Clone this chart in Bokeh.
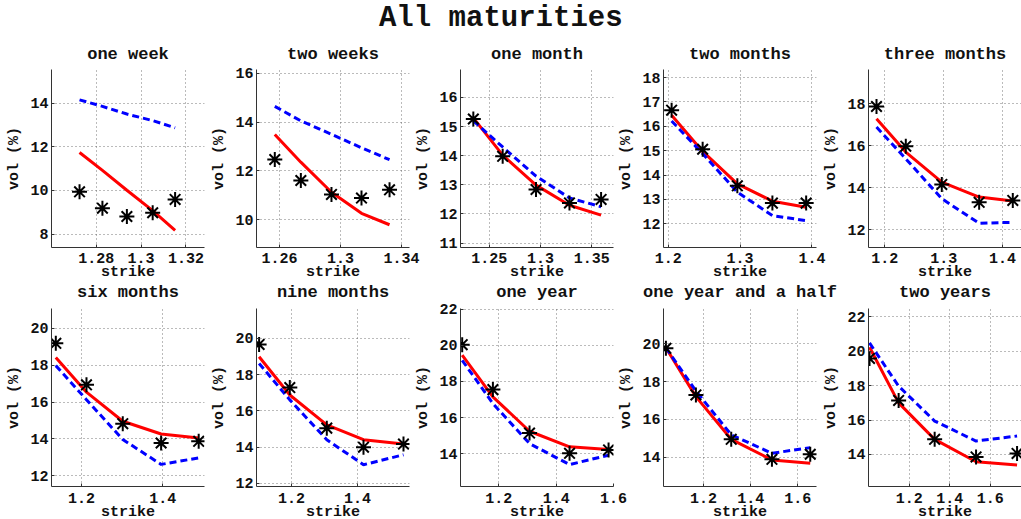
from bokeh.plotting import figure
from bokeh.layouts import column, row
from bokeh.models import Range1d, FixedTicker
from bokeh.embed import file_html
from bokeh.resources import INLINE
from bokeh.core.properties import value

SUPTITLE = "All maturities"
TITLES = ["one week", "two weeks", "one month", "two months", "three months",
          "six months", "nine months", "one year", "one year and a half", "two years"]

# strikes
K_1W = [1.2726, 1.2828, 1.2937, 1.3052, 1.3152]
K_2W = [1.2569, 1.2740, 1.2941, 1.3138, 1.3322]
K_1M = [1.2346, 1.2632, 1.2957, 1.3283, 1.3591]
K_2M = [1.2047, 1.2479, 1.2962, 1.3450, 1.3920]
K_3M = [1.1858, 1.2356, 1.2968, 1.3603, 1.4175]
K_6M = [1.1366, 1.2121, 1.3014, 1.3958, 1.4883]
K_9M = [1.1019, 1.1949, 1.3070, 1.4182, 1.5394]
K_1Y = [1.0722, 1.1793, 1.3071, 1.4467, 1.5828]
K_18M = [1.0406, 1.1678, 1.3175, 1.4901, 1.6525]
K_2Y = [1.0040, 1.1478, 1.3257, 1.5302, 1.7327]

# market vols (stars)
MKT_1W = [9.94, 9.19, 8.81, 8.98, 9.59]
MKT_2W = [12.47, 11.61, 11.04, 10.89, 11.23]
MKT_1M = [15.26, 13.98, 12.84, 12.38, 12.50]
MKT_2M = [16.66, 15.06, 13.56, 12.85, 12.85]
MKT_3M = [17.87, 15.98, 14.16, 13.31, 13.40]
MKT_6M = [19.19, 16.94, 14.83, 13.78, 13.87]
MKT_9M = [19.67, 17.29, 15.05, 14.00, 14.17]
MKT_1Y = [20.03, 17.55, 15.15, 14.03, 14.22]
MKT_18M = [19.77, 17.30, 14.95, 13.89, 14.16]
MKT_2Y = [19.58, 17.14, 14.88, 13.86, 14.06]

# model vols (red solid)
RED_1W = [11.74, 10.92, 10.01, 9.08, 8.17]
RED_2W = [13.49, 12.36, 11.13, 10.27, 9.80]
RED_1M = [15.30, 14.02, 12.99, 12.30, 11.96]
RED_2M = [16.45, 14.97, 13.64, 12.93, 12.68]
RED_3M = [17.29, 15.70, 14.27, 13.56, 13.37]
RED_6M = [18.42, 16.54, 14.96, 14.27, 14.05]
RED_9M = [18.99, 16.88, 15.23, 14.41, 14.17]
RED_1Y = [19.45, 17.15, 15.25, 14.39, 14.24]
RED_18M = [19.80, 17.21, 14.95, 13.86, 13.68]
RED_2Y = [20.23, 17.00, 14.88, 13.58, 13.39]

# model vols (blue dashed)
BLUE_1W = [14.15, 13.85, 13.50, 13.20, 12.87]
BLUE_2W = [14.64, 14.05, 13.50, 12.95, 12.46]
BLUE_1M = [15.20, 14.30, 13.30, 12.55, 12.25]
BLUE_2M = [16.22, 14.88, 13.30, 12.34, 12.13]
BLUE_3M = [16.89, 15.38, 13.48, 12.31, 12.36]
BLUE_6M = [17.98, 16.13, 13.97, 12.62, 12.97]
BLUE_9M = [18.62, 16.61, 14.41, 13.03, 13.58]
BLUE_1Y = [19.17, 16.78, 14.57, 13.41, 13.93]
BLUE_18M = [19.80, 17.51, 15.19, 14.21, 14.51]
BLUE_2Y = [20.48, 17.97, 15.94, 14.78, 15.07]

# tick values
XT_1W = [1.28, 1.30, 1.32]; YT_1W = [8, 10, 12, 14]
XT_2W = [1.26, 1.30, 1.34]; YT_2W = [10, 12, 14, 16]
XT_1M = [1.25, 1.30, 1.35]; YT_1M = [11, 12, 13, 14, 15, 16]
XT_2M = [1.2, 1.3, 1.4];    YT_2M = [12, 13, 14, 15, 16, 17, 18]
XT_3M = [1.2, 1.3, 1.4];    YT_3M = [12, 14, 16, 18]
XT_6M = [1.2, 1.4];         YT_6M = [12, 14, 16, 18, 20]
XT_9M = [1.2, 1.4];         YT_9M = [12, 14, 16, 18, 20]
XT_1Y = [1.2, 1.4, 1.6];    YT_1Y = [14, 16, 18, 20, 22]
XT_18M = [1.2, 1.4, 1.6];   YT_18M = [14, 16, 18, 20]
XT_2Y = [1.2, 1.4, 1.6];    YT_2Y = [14, 16, 18, 20, 22]

STRIKES = [K_1W, K_2W, K_1M, K_2M, K_3M, K_6M, K_9M, K_1Y, K_18M, K_2Y]
MARKET = [MKT_1W, MKT_2W, MKT_1M, MKT_2M, MKT_3M, MKT_6M, MKT_9M, MKT_1Y, MKT_18M, MKT_2Y]
REDS = [RED_1W, RED_2W, RED_1M, RED_2M, RED_3M, RED_6M, RED_9M, RED_1Y, RED_18M, RED_2Y]
BLUES = [BLUE_1W, BLUE_2W, BLUE_1M, BLUE_2M, BLUE_3M, BLUE_6M, BLUE_9M, BLUE_1Y, BLUE_18M, BLUE_2Y]
XTICKS = [XT_1W, XT_2W, XT_1M, XT_2M, XT_3M, XT_6M, XT_9M, XT_1Y, XT_18M, XT_2Y]
YTICKS = [YT_1W, YT_2W, YT_1M, YT_2M, YT_3M, YT_6M, YT_9M, YT_1Y, YT_18M, YT_2Y]

# axis limits (layout)
XLIM = [(1.2601, 1.3283), (1.2449, 1.3453), (1.2221, 1.3712), (1.1934, 1.4064), (1.1722, 1.4323),
        (1.126, 1.5026), (1.094, 1.5576), (1.0663, 1.60), (1.0304, 1.679), (0.999, 1.7546)]
YLIM = [(7.39, 15.54), (8.87, 16.15), (10.85, 16.96), (11.03, 18.33), (11.16, 19.63),
        (11.42, 21.08), (11.83, 21.65), (12.2, 22.03), (12.45, 21.88), (12.14, 22.48)]
LEFT_BORDERS = [51, 52, 51, 50, 52]
OVERLAP = 26

FONT = "Liberation Mono"
FRAME_W, FRAME_H = 153, 178


def fmt(t):
    return ("%g" % t)


def panel(i):
    r, c = divmod(i, 5)
    top = 34 if r == 0 else 35
    bot = 35 if r == 0 else 34
    right = OVERLAP if c < 4 else 0
    mleft = -OVERLAP if c > 0 else 0
    mtop = 0 if r == 0 else -10
    p = figure(frame_width=FRAME_W, frame_height=FRAME_H,
               x_range=Range1d(*XLIM[i]), y_range=Range1d(*YLIM[i]),
               output_backend="svg", toolbar_location=None,
               min_border_left=LEFT_BORDERS[c], min_border_right=right,
               min_border_top=top, min_border_bottom=bot,
               margin=(mtop, 0, 0, mleft),
               title=TITLES[i])
    p.outline_line_color = None
    p.background_fill_color = None
    p.border_fill_color = None
    p.title.align = "center"
    p.title.text_font = FONT
    p.title.text_font_style = "bold"
    p.title.text_font_size = "17px"
    p.title.standoff = 12 if r == 0 else 13
    p.title.text_color = "#111111"

    p.xaxis.ticker = FixedTicker(ticks=XTICKS[i])
    p.yaxis.ticker = FixedTicker(ticks=YTICKS[i])
    p.xaxis.major_label_overrides = {t: fmt(t) for t in XTICKS[i]}
    p.yaxis.major_label_overrides = {t: fmt(t) for t in YTICKS[i]}
    p.xaxis.axis_label = "strike"
    p.yaxis.axis_label = "vol (%)"
    for ax in (p.xaxis, p.yaxis):
        ax.axis_label_text_font = FONT
        ax.axis_label_text_font_style = "bold"
        ax.axis_label_text_font_size = "15px"
        ax.axis_label_text_color = "#111111"
        ax.major_label_text_font = FONT
        ax.major_label_text_font_style = "bold"
        ax.major_label_text_font_size = "15px"
        ax.major_label_text_color = "#111111"
        ax.axis_line_color = "#333333"
        ax.major_tick_line_color = "#333333"
        ax.major_tick_in = 3
        ax.major_tick_out = 0
        ax.minor_tick_line_color = None
    p.xaxis.major_label_standoff = 5 if r == 0 else 6
    p.xaxis.axis_label_standoff = -2
    p.yaxis.major_label_standoff = 3
    p.yaxis.axis_label_standoff = 4
    for g in (p.xgrid, p.ygrid):
        g.grid_line_color = "#555555"
        g.grid_line_alpha = 0.8
        g.grid_line_dash = "1 3"
        g.grid_line_width = 1

    p.line(STRIKES[i], REDS[i], line_color="#ff0000", line_width=3)
    p.line(STRIKES[i], BLUES[i], line_color="#0000ff", line_width=3, line_dash="7 4")
    p.scatter(STRIKES[i], MARKET[i], marker="asterisk", size=15,
              line_color="black", line_width=2)
    return p


head = figure(width=1021, height=35, x_range=Range1d(0, 1), y_range=Range1d(0, 1),
              output_backend="svg", toolbar_location=None,
              x_axis_location=None, y_axis_location=None, min_border=0)
head.outline_line_color = None
head.border_fill_color = None
head.background_fill_color = None
head.grid.visible = False
head.text(x=[0.49], y=[0.5], text=[SUPTITLE], text_align="center", text_baseline="middle",
          text_font=value(FONT), text_font_style="bold", text_font_size="29px",
          text_color="#111111")

panels = [panel(i) for i in range(10)]
layout = column(head, row(*panels[:5], spacing=0), row(*panels[5:], spacing=0), spacing=0)

open("out.html", "w").write(file_html(layout, INLINE))
